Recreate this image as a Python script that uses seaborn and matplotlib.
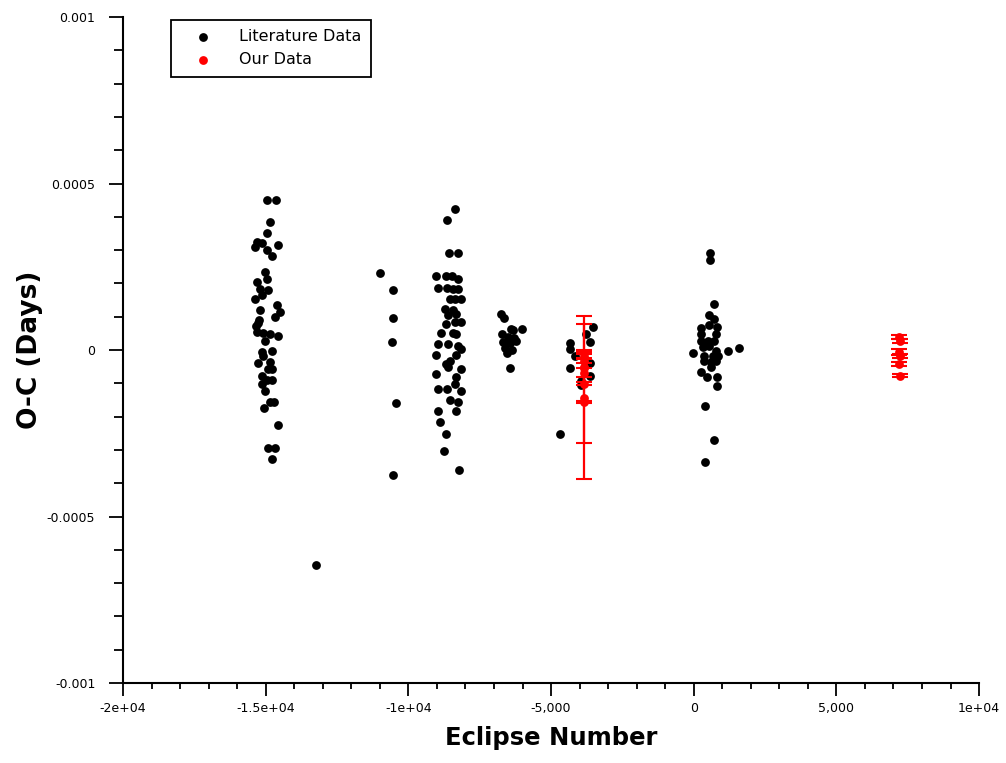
import numpy as np
import pandas as pd
import seaborn as sns
import matplotlib
matplotlib.use('Agg')
import matplotlib.pyplot as plt
from matplotlib.ticker import FixedLocator, FixedFormatter, MultipleLocator

# literature O-C values (eclipse number, O-C in days)
lit_epoch = [
    # group near -15000
    -14966, -14641, -14851, -14966, -15295, -15376, -15141, -14966, -14581, -14791,
    -15026, -14966, -15295, -15201, -14910, -15141, -15376, -14616, -14501, -15201,
    -15225, -15260, -15295, -15085, -14851, -14560, -15026, -15141, -14791, -15085,
    -14851, -14791, -15141, -14966, -14791, -15141, -15026, -14851, -14711, -15050,
    -14581, -14910, -14676, -14791, -15330, -14676, -15260, -14921,
    # lone point
    -13241,
    # group near -10500
    -11001, -10535, -10535, -10591, -10451, -10535,
    # group near -8500
    -8376, -8631, -8575, -8246, -9016, -8666, -8481, -8246, -8960, -8645,
    -8435, -8260, -8376, -8141, -8551, -8726, -8435, -8610, -8316, -8141,
    -8666, -8376, -8841, -8435, -8316, -8960, -8610, -8260, -8141, -9016,
    -8316, -8666, -8551, -8141, -8610, -9016, -8316, -8376, -8960, -8645,
    -8166, -8551, -8260, -8960, -8316, -8901, -8691, -8761, -8225,
    # group near -6500
    -6741, -6661, -6391, -6006, -6335, -6731, -6521, -6311, -6696, -6451,
    -6241, -6626, -6381, -6556, -6451,
    # group near -4000
    -3535, -3791, -3651, -4351, -4326, -4176, -3626, -4326, -3651, -3941,
    -3941, -4701,
    # group near 500
    574, 574, 725, 525, 725, 259, 550, 805, 259, 784,
    259, 490, 725, 315, 550, 784, -11, 1190, 1575, 375,
    665, 840, 375, 609, 784, 609, 259, 455, 805, 805,
    399, 725, 399,
]
lit_oc = [
    0.000450, 0.000450, 0.000383, 0.000350, 0.000324, 0.000309, 0.000320, 0.000299, 0.000315, 0.000281,
    0.000234, 0.000214, 0.000204, 0.000184, 0.000181, 0.000164, 0.000154, 0.000134, 0.000114, 0.000119,
    0.0000888, 0.0000807, 0.0000536, 0.0000506, 0.0000488, 0.0000436, 0.0000286, -0.0000066, -0.0000036, -0.0000166,
    -0.0000367, -0.0000566, -0.0000768, -0.0000897, -0.0000897, -0.000102, -0.000122, -0.000157, -0.000155, -0.000175,
    -0.000225, -0.000293, -0.000293, -0.000326, 0.0000707, 0.0000978, -0.0000376, -0.0000557,
    -0.000646,
    0.000232, 0.000181, 0.0000969, 0.0000235, -0.000160, -0.000376,
    0.000422, 0.000390, 0.000290, 0.000290, 0.000221, 0.000222, 0.000221, 0.000214, 0.000186, 0.000187,
    0.000184, 0.000184, 0.000154, 0.000154, 0.000154, 0.000124, 0.000119, 0.000104, 0.000109, 0.0000837,
    0.0000789, 0.0000837, 0.0000518, 0.0000506, 0.0000467, 0.0000187, 0.0000187, 0.0000135, 0.0000036, -0.0000144,
    -0.0000135, -0.0000415, -0.0000316, -0.0000566, -0.0000518, -0.0000716, -0.0000819, -0.000102, -0.000117, -0.000117,
    -0.000124, -0.000150, -0.000155, -0.000184, -0.000184, -0.000217, -0.000252, -0.000303, -0.000359,
    0.000109, 0.0000957, 0.0000638, 0.0000638, 0.0000587, 0.0000467, 0.0000406, 0.0000376, 0.0000256, 0.0000196,
    0.0000286, 0.0000075, 0.0000015, -0.0000075, -0.0000548,
    0.0000686, 0.0000467, 0.0000235, 0.0000205, 0.0000036, -0.0000166, -0.0000397, -0.0000548, -0.0000768, -0.0000918,
    -0.000104, -0.000252,
    0.000290, 0.000269, 0.000137, 0.000104, 0.0000939, 0.0000668, 0.0000737, 0.0000686, 0.0000488, 0.0000488,
    0.0000286, 0.0000286, 0.0000286, 0.0000084, 0.0000135, -0.0000015, -0.0000096, -0.0000036, 0.0000066, -0.0000166,
    -0.0000166, -0.0000166, -0.0000316, -0.0000367, -0.0000316, -0.0000518, -0.0000668, -0.0000819, -0.0000819, -0.000107,
    -0.000167, -0.000269, -0.000336,
]

# our own timings with their errors
our_epoch = [-3860, -3850, -3840, -3845, -3835, -3850, -3840, -3855,
             7210, 7230, 7190, 7240, 7200, 7220]
our_oc = [-0.000143, -0.000101, -0.0000527, -0.0000497, -0.0000677, -0.000157, -0.0000316, -0.0000166,
          0.0000406, 0.0000286, -0.0000045, -0.0000166, -0.0000406, -0.0000768]
our_err = [0.000244, 0.000178, 0.0000527, 0.0000452, 0.0000135, 0.000003, 0.000006, 0.000006,
           0.000006, 0.000006, 0.000009, 0.000006, 0.000006, 0.0000045]

x_ticks = [-20000, -15000, -10000, -5000, 0, 5000, 10000]
x_ticklabels = ['-2e+04', '-1.5e+04', '-1e+04', '-5,000', '0', '5,000', '1e+04']
y_ticks = [-0.001, -0.0005, 0, 0.0005, 0.001]
y_ticklabels = ['-0.001', '-0.0005', '0', '0.0005', '0.001']

lit = pd.DataFrame({'epoch': lit_epoch, 'oc': lit_oc})
ours = pd.DataFrame({'epoch': our_epoch, 'oc': our_oc, 'err': our_err})

sns.set_style('ticks')
plt.rcParams['font.family'] = ['DejaVu Sans']
plt.rcParams['text.color'] = 'black'
plt.rcParams['axes.labelcolor'] = 'black'

fig = plt.figure(figsize=(10.06, 7.63), dpi=100)
ax = fig.add_axes([0.1223, 0.1048, 0.8509, 0.8729])

sns.scatterplot(data=lit, x='epoch', y='oc', ax=ax, color='black', s=40,
                linewidth=0, label='Literature Data', zorder=3)
ax.errorbar(ours['epoch'], ours['oc'], yerr=ours['err'], fmt='none', ecolor='#ff0000',
            elinewidth=1.6, capsize=5.6, capthick=1.5, zorder=4)
sns.scatterplot(data=ours, x='epoch', y='oc', ax=ax, color='#ff0000', s=40,
                linewidth=0, label='Our Data', zorder=5)

ax.set_xlim(-20000, 10000)
ax.set_ylim(-0.001, 0.001)
ax.xaxis.set_major_locator(FixedLocator(x_ticks))
ax.xaxis.set_major_formatter(FixedFormatter(x_ticklabels))
ax.xaxis.set_minor_locator(MultipleLocator(1000))
ax.yaxis.set_major_locator(FixedLocator(y_ticks))
ax.yaxis.set_major_formatter(FixedFormatter(y_ticklabels))
ax.yaxis.set_minor_locator(MultipleLocator(0.0001))

ax.tick_params(which='both', direction='out', width=1.3, colors='black', labelsize=9)
ax.tick_params(axis='x', which='major', length=9, pad=5)
ax.tick_params(axis='x', which='minor', length=4.5)
ax.tick_params(axis='y', which='major', length=10, pad=10)
ax.tick_params(axis='y', which='minor', length=6.5)

sns.despine(ax=ax)
for side in ['left', 'bottom']:
    ax.spines[side].set_linewidth(1.5)
    ax.spines[side].set_color('black')

ax.set_xlabel('Eclipse Number', fontsize=17.5, fontweight='bold', color='black')
ax.set_ylabel('O-C (Days)', fontsize=19, fontweight='bold', color='black')
ax.xaxis.set_label_coords(0.5, -0.064)
ax.yaxis.set_label_coords(-0.094, 0.5)

leg = ax.legend(loc='upper left', bbox_to_anchor=(0.056, 0.996), borderaxespad=0,
                fontsize=11.5, frameon=True, fancybox=False, handlelength=2.75,
                handletextpad=0.9, borderpad=0.6, labelspacing=0.5)
leg.get_frame().set_edgecolor('black')
leg.get_frame().set_linewidth(1.3)
leg.get_frame().set_alpha(1)
for t in leg.get_texts():
    t.set_color('black')

fig.savefig('out.png', dpi=100)
